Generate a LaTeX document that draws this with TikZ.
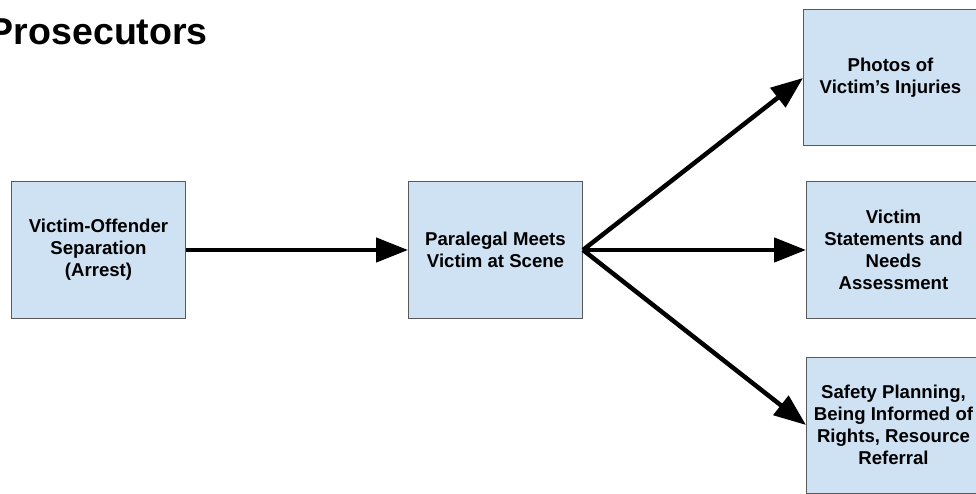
\documentclass[tikz,border=0pt]{standalone}
\usepackage{fontspec}
\setmainfont{Liberation Sans}
\usetikzlibrary{arrows.meta}
\definecolor{boxfill}{HTML}{CFE2F3}
\definecolor{boxline}{HTML}{595959}
\begin{document}
\begin{tikzpicture}[x=1pt,y=-1pt,
  box/.style={draw=boxline, fill=boxfill, line width=1pt, minimum width=174pt, minimum height=136pt, inner sep=0pt, align=center, font=\fontsize{18.6}{22}\selectfont\bfseries},
  arr/.style={line width=4.5pt, -{Triangle[length=32pt,width=24pt]}}]
\clip (0,0) rectangle (976,494);
\fill[white] (0,0) rectangle (976,494);
\node[anchor=base east, inner sep=0pt, font=\fontsize{37.5}{44}\selectfont\bfseries] (title) at (208,45) {Prosecutors};
\node[box] (sep) at (98.5,250) {Victim-Offender\\Separation\\(Arrest)};
\node[box] (para) at (495.5,250) {Paralegal Meets\\Victim at Scene};
\node[box] (photo) at (890.5,78) {Photos of\\Victim’s Injuries};
\node[box] (stmt) at (893.5,250) {Victim\\Statements and\\Needs\\Assessment};
\node[box] (safe) at (893.5,425) {Safety Planning,\\Being Informed of\\Rights, Resource\\Referral};
\draw[arr] (sep.east) -- (para.west);
\draw[arr] (para.east) -- (photo.west);
\draw[arr] (para.east) -- (stmt.west);
\draw[arr] (para.east) -- (safe.west);
\end{tikzpicture}
\end{document}
